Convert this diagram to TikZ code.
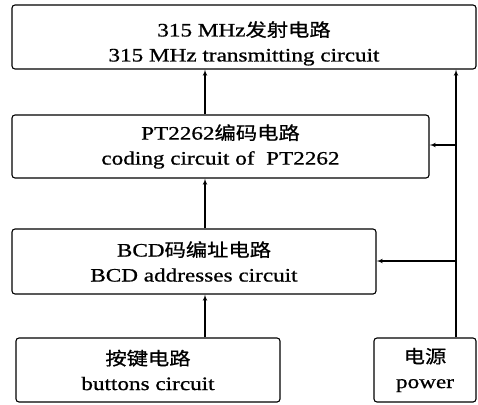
\documentclass[tikz,border=0pt]{standalone}
\usepackage{fontspec}
\setmainfont[FakeStretch=1.22,FakeBold=0.8]{Liberation Serif}
\newfontfamily\cjk[FakeStretch=1.18,Scale=0.95,FakeBold=0.8]{Noto Sans CJK SC}
\usetikzlibrary{arrows}

\begin{document}
\begin{tikzpicture}[x=1pt,y=-1pt]

\tikzset{block/.style = {draw, rounded corners=3pt, line width=1.1pt, align=center, font=\fontsize{19}{25}\selectfont, inner sep=0pt}}
\tikzset{edge/.style = {->, > = latex', line width=1.1pt}}
\useasboundingbox (0,0) rectangle (478,404);
%blocks
\node[block, minimum width=464pt, minimum height=64pt] (tx) at (244,37) {\rule{0pt}{28pt}315 MHz{\cjk 发射电路}\\315 MHz transmitting circuit};
\node[block, minimum width=417pt, minimum height=63pt] (enc) at (220.5,146.5) {PT2262{\cjk 编码电路}\\coding circuit of\ \ PT2262};
\node[block, minimum width=364pt, minimum height=65pt] (bcd) at (194,261.5) {BCD{\cjk 码编址电路}\\BCD addresses circuit};
\node[block, minimum width=264pt, minimum height=64pt] (btn) at (148,370) {{\cjk 按键电路}\\buttons circuit};
\node[block, minimum width=102pt, minimum height=64pt] (pwr) at (425,370) {{\cjk 电源}\\power};
%wires
\coordinate (mid) at (205,0);
\coordinate (rail) at (456,0);
\coordinate (j1) at (456,145);
\coordinate (j2) at (456,261);
%edges
\draw [edge] (btn.north -| mid) -- (bcd.south -| mid);
\draw [edge] (bcd.north -| mid) -- (enc.south -| mid);
\draw [edge] (enc.north -| mid) -- (tx.south -| mid);
\draw [edge] (pwr.north -| rail) -- (tx.south -| rail);
\draw [edge] (j1) -- (j1 -| enc.east);
\draw [edge] (j2) -- (j2 -| bcd.east);

\end{tikzpicture}
\end{document}
